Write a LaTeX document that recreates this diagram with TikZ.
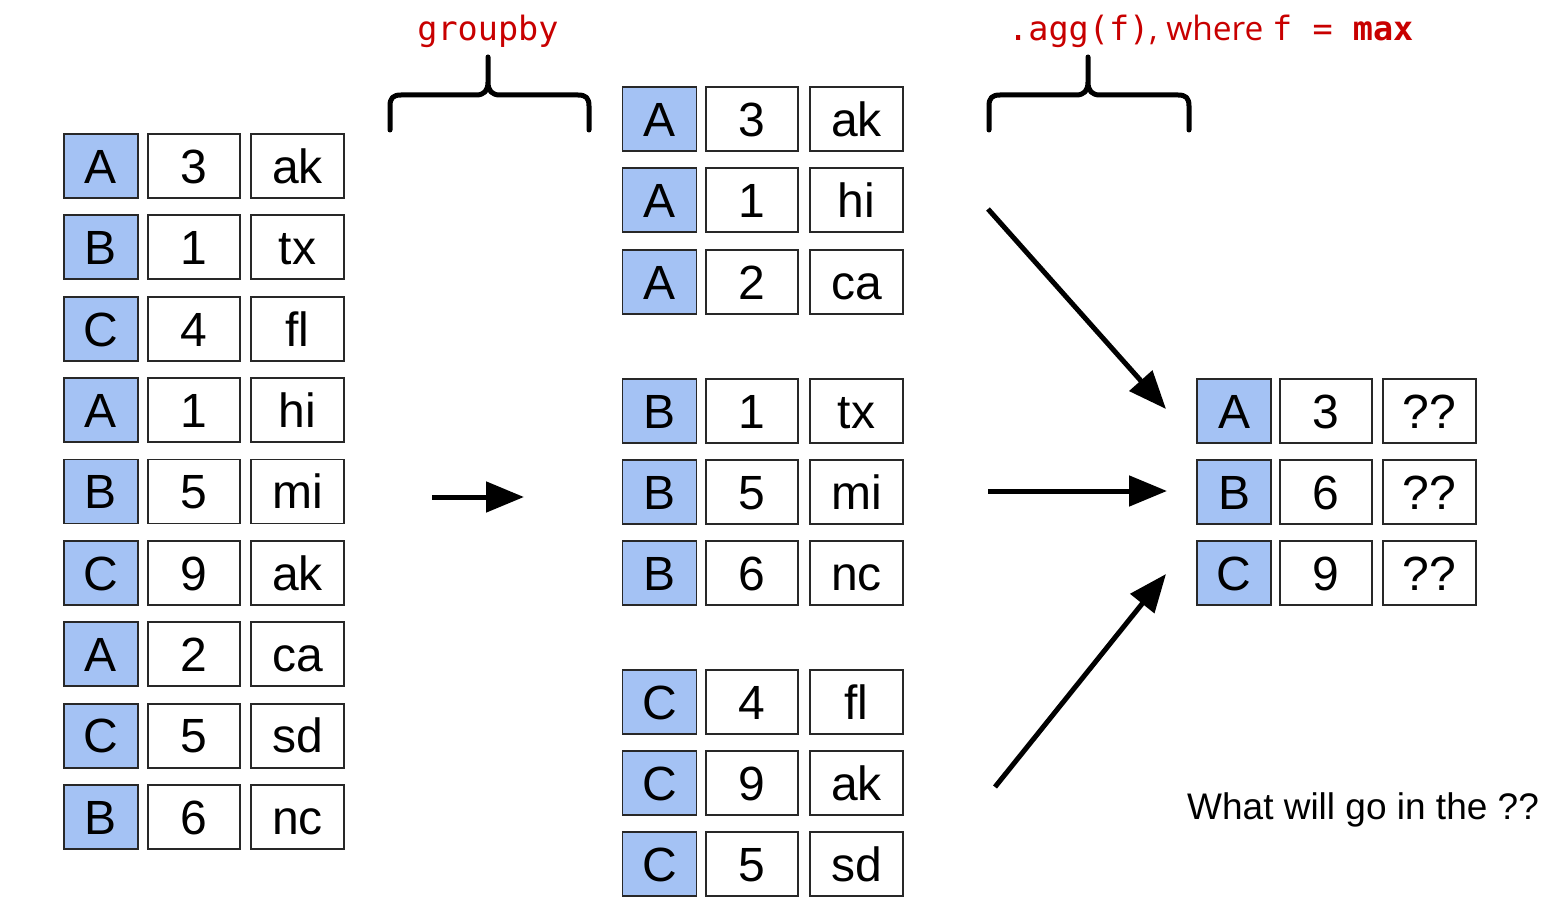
\documentclass[tikz,border=0pt]{standalone}
\usepackage{fontspec}
\setmainfont{Liberation Sans}
\newfontfamily\codefont{DejaVu Sans Mono}
\newfontfamily\notefont{Open Sans}
\usetikzlibrary{arrows.meta,positioning}
\definecolor{keyblue}{RGB}{164,194,244}
\definecolor{codered}{RGB}{200,0,0}
\definecolor{cellline}{RGB}{40,40,40}
\tikzset{%
	cell/.style     = {draw=cellline, line width=1.8pt, rectangle, minimum height=64pt, inner sep=0pt, text height=34.5pt, text depth=0pt, font=\fontsize{48}{56}\selectfont},
	keycell/.style  = {cell, fill=keyblue, minimum width=74pt}, % key column
	numcell/.style  = {cell, minimum width=92pt}, % number column
	txtcell/.style  = {cell, minimum width=93pt}, % text column
	waypoint/.style = {coordinate},
	arrow/.style    = {line width=5pt, -{Triangle[length=38pt,width=30pt]}},
	brace/.style    = {line width=5pt, line join=round, line cap=round},
	codelabel/.style= {text=codered, font=\codefont\fontsize{33.5}{40}\selectfont, inner sep=0pt},
}

\begin{document}
\begin{tikzpicture}[x=1pt,y=-1pt]
	\useasboundingbox (0,0) rectangle (1553,909);

	% original table
	\foreach \k/\n/\t [count=\i] in {A/3/ak,B/1/tx,C/4/fl,A/1/hi,B/5/mi,C/9/ak,A/2/ca,C/5/sd,B/6/nc} {
		\node [keycell] (lkey\i) at (101,{166+81.375*(\i-1)}) {\k};
		\node [numcell] (lnum\i) [right=8pt of lkey\i] {\n};
		\node [txtcell] (ltxt\i) [right=9.5pt of lnum\i] {\t};
	}

	% grouped tables
	\foreach \k/\n/\t/\y [count=\i] in {A/3/ak/119,A/1/hi/200,A/2/ca/282,B/1/tx/411,B/5/mi/492,B/6/nc/573,C/4/fl/702,C/9/ak/783,C/5/sd/864} {
		\node [keycell] (gkey\i) at (659.5,\y) {\k};
		\node [numcell] (gnum\i) [right=7.5pt of gkey\i] {\n};
		\node [txtcell] (gtxt\i) [right=10.5pt of gnum\i] {\t};
	}

	% aggregated table
	\foreach \k/\n/\y [count=\i] in {A/3/411,B/6/492,C/9/573} {
		\node [keycell] (akey\i) at (1234,\y) {\k};
		\node [numcell] (anum\i) [right=7.5pt of akey\i] {\n};
		\node [txtcell] (atxt\i) [right=8.5pt of anum\i] {??};
	}

	% braces and labels
	\draw [brace] (390,130) -- (390,106) .. controls (390,98) and (393,95) .. (401,95) -- (476,95) .. controls (484,95) and (488,91) .. (488,82) -- (488,57)
		-- (488,82) .. controls (488,91) and (492,95) .. (500,95) -- (578,95) .. controls (586,95) and (589,98) .. (589,106) -- (589,130);
	\draw [brace] (989,130) -- (989,106) .. controls (989,98) and (992,95) .. (1000,95) -- (1076,95) .. controls (1084,95) and (1088,91) .. (1088,82) -- (1088,57)
		-- (1088,82) .. controls (1088,91) and (1092,95) .. (1100,95) -- (1178,95) .. controls (1186,95) and (1189,98) .. (1189,106) -- (1189,130);
	\node [codelabel, anchor=base] (grouplbl) at (488,41) {groupby};
	\node [codelabel, anchor=base west] (agglbl) at (1008,41) {.agg(f){\notefont, where }f = \textbf{max}};

	% arrows
	\coordinate (gstart) at (432,497);
	\coordinate (gend) at (524,497);
	\coordinate (astart) at (988,209);
	\coordinate (aend) at (1166,409);
	\coordinate (bstart) at (988,491);
	\coordinate (bend) at (1167,491);
	\coordinate (cstart) at (995,787);
	\coordinate (cend) at (1166,574);
	\draw [arrow] (gstart) -- (gend);
	\draw [arrow] (astart) -- (aend);
	\draw [arrow] (bstart) -- (bend);
	\draw [arrow] (cstart) -- (cend);

	\node [anchor=base west, inner sep=0pt, font=\fontsize{37}{44}\selectfont] (question) at (1187,819) {What will go in the ??};
\end{tikzpicture}
\end{document}
